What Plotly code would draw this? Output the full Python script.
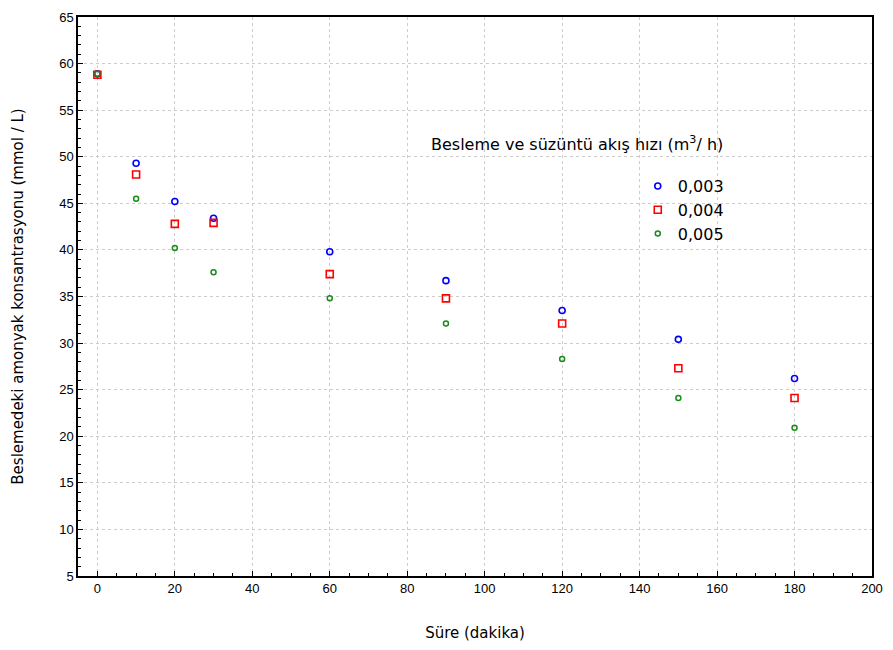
import plotly.graph_objects as go

time_min = [0, 10, 20, 30, 60, 90, 120, 150, 180]
flow_003 = [58.9, 49.3, 45.2, 43.4, 39.8, 36.7, 33.5, 30.4, 26.2]
flow_004 = [58.8, 48.1, 42.8, 42.9, 37.4, 34.8, 32.1, 27.3, 24.1]
flow_005 = [58.9, 45.5, 40.2, 37.6, 34.8, 32.1, 28.3, 24.1, 20.9]
series_names = ["0,003", "0,004", "0,005"]

FONT = "Liberation Sans, Arial, sans-serif"
WIDE = "DejaVu Sans, Verdana, sans-serif"

fig = go.Figure()
fig.add_trace(go.Scatter(x=time_min, y=flow_003, mode="markers", name=series_names[0],
                         marker=dict(symbol="circle-open", size=6, color="#0000ff",
                                     line=dict(width=1.6, color="#0000ff"))))
fig.add_trace(go.Scatter(x=time_min, y=flow_004, mode="markers", name=series_names[1],
                         marker=dict(symbol="square-open", size=7, color="#ff0000",
                                     line=dict(width=1.6, color="#ff0000"))))
fig.add_trace(go.Scatter(x=time_min, y=flow_005, mode="markers", name=series_names[2],
                         marker=dict(symbol="circle-open", size=5, color="#1a8c1a",
                                     line=dict(width=1.5, color="#1a8c1a"))))

axis_common = dict(
    showline=True, linecolor="black", linewidth=1.5, mirror=True,
    showgrid=True, gridcolor="#cccccc", griddash="dot", gridwidth=1.2,
    zeroline=False, ticks="inside", ticklen=5, tickcolor="black",
    tickfont=dict(family=FONT, size=13, color="black"),
)

fig.update_xaxes(range=[-5, 200], dtick=20, tick0=0,
                 minor=dict(dtick=5, ticks="inside", ticklen=3, tickcolor="black", showgrid=False),
                 title=dict(text="Süre (dakika)", font=dict(family=WIDE, size=15, color="black"), standoff=32),
                 **axis_common)
fig.update_yaxes(range=[5, 65], dtick=5, tick0=5,
                 minor=dict(dtick=1, ticks="inside", ticklen=3, tickcolor="black", showgrid=False),
                 title=dict(text="Beslemedeki amonyak konsantrasyonu (mmol / L)",
                            font=dict(family=WIDE, size=15, color="black"), standoff=32),
                 **axis_common)

fig.add_annotation(text="Besleme ve süzüntü akış hızı (m<sup>3</sup>/ h)", xref="paper", yref="paper",
                   x=(432 - 78) / 800, y=1 - (138 - 10) / 566, xanchor="left", yanchor="middle",
                   showarrow=False, font=dict(family=WIDE, size=16, color="black"))

fig.update_layout(
    width=893, height=650,
    margin=dict(l=78, r=15, t=10, b=74),
    paper_bgcolor="white", plot_bgcolor="white",
    font=dict(family=FONT, size=13, color="black"),
    legend=dict(x=(642 - 78) / 800, y=1 - (164 - 10) / 566, xanchor="left", yanchor="top",
                bgcolor="rgba(0,0,0,0)", font=dict(family=WIDE, size=16, color="black"),
                tracegroupgap=0, itemsizing="trace"),
)

fig.write_html("out.html")
